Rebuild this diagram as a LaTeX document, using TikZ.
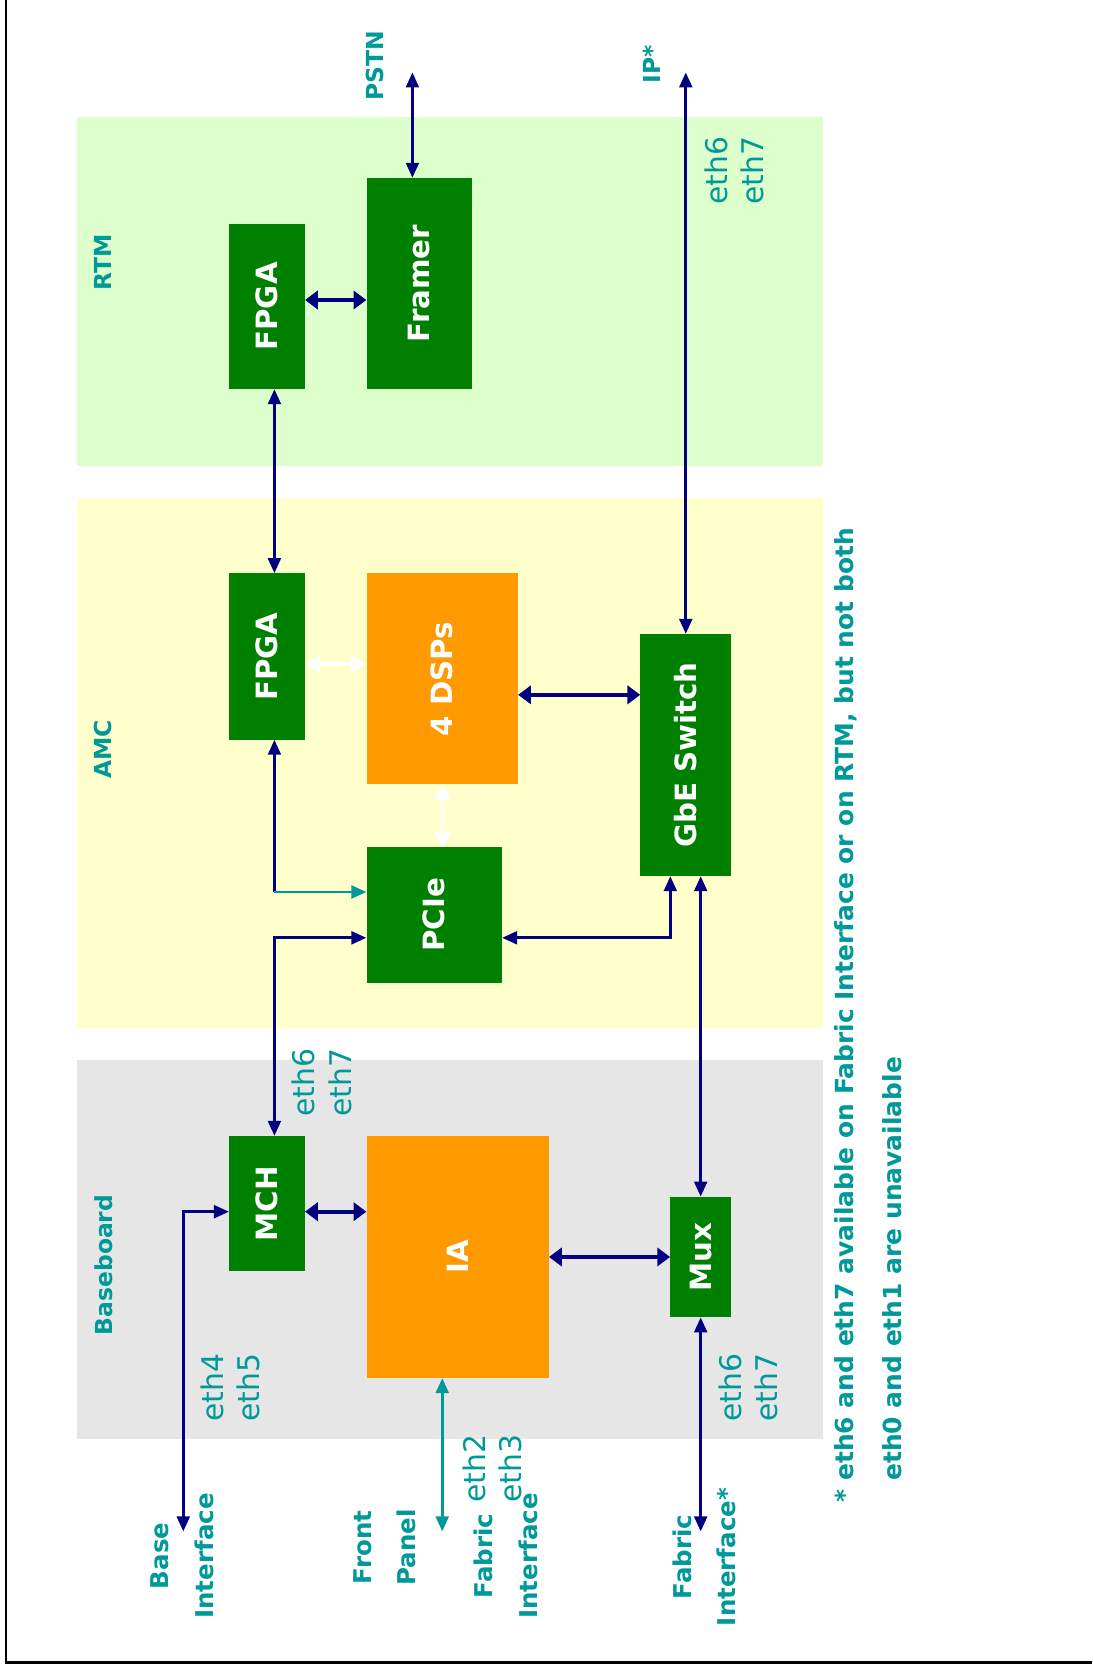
\documentclass[tikz,border=0pt]{standalone}
\usepackage{fontspec}
\setmainfont{DejaVu Sans}
\usetikzlibrary{arrows.meta,positioning,calc}

\definecolor{dgreen}{RGB}{0,128,0}
\definecolor{dorange}{RGB}{255,153,0}
\definecolor{tealT}{RGB}{0,153,153}
\definecolor{navyA}{RGB}{0,0,128}
\definecolor{rtmbg}{RGB}{221,255,204}
\definecolor{amcbg}{RGB}{255,255,204}
\definecolor{basebg}{RGB}{230,230,230}

\begin{document}
\begin{tikzpicture}
  [x=1pt,y=1pt,
   blkN/.style={inner sep=0pt, text=white, font=\fontsize{27.5}{30}\selectfont\bfseries},
   grnN/.style={blkN,fill=dgreen},
   orgN/.style={blkN,fill=dorange},
   areaL/.style={text=tealT, font=\fontsize{22}{26}\selectfont\bfseries, rotate=90, inner sep=0pt},
   ioL/.style={text=tealT, font=\fontsize{23}{42}\selectfont\bfseries, rotate=90, align=center, inner sep=0pt},
   ethL/.style={text=tealT, font=\fontsize{28}{34}\selectfont, rotate=90, align=left, inner sep=0pt},
   link/.style={draw=navyA, line width=2.5pt, >={Triangle[length=14pt,width=12pt]}},
   fatlink/.style={draw=navyA, line width=4pt, >={Triangle[length=12pt,width=17pt]}},
   tlink/.style={draw=tealT, line width=2.5pt, >={Triangle[length=14pt,width=12pt]}},
   wlink/.style={draw=white, line width=3pt, >={Triangle[length=14pt,width=15pt]}},
  ]

 \useasboundingbox (0,0) rectangle (1025,-1568);
 \draw[line width=2pt] (5.6,0) -- (5.6,-1560) -- (1025,-1560);

 % the three boards
 \fill[rtmbg] (72,-110) rectangle (772,-437);
 \fill[amcbg] (72,-467) rectangle (772,-965);
 \fill[basebg] (72,-995) rectangle (772,-1350);
 \node[areaL] (rtmL) at (97,-246) {RTM};
 \node[areaL] (amcL) at (97,-703) {AMC};
 \node[areaL] (baseL) at (97,-1187) {Baseboard};

 % blocks
 \node[grnN, minimum width=71, minimum height=155] (rtmFpga) at (250.5,-287.5) {\rotatebox{90}{FPGA}};
 \node[grnN, minimum width=99, minimum height=198] (framer) at (393.5,-266) {\rotatebox{90}{Framer}};
 \node[grnN, minimum width=71, minimum height=156] (amcFpga) at (250.5,-616) {\rotatebox{90}{FPGA}};
 \node[orgN, minimum width=142, minimum height=198] (dsps) at (415,-637) {\rotatebox{90}{4 DSPs}};
 \node[grnN, minimum width=127, minimum height=127] (pcie) at (407.5,-858.5) {\rotatebox{90}{PCIe}};
 \node[grnN, minimum width=85, minimum height=227] (gbe) at (643.5,-708.5) {\rotatebox{90}{GbE Switch}};
 \node[grnN, minimum width=71, minimum height=127] (mch) at (250.5,-1129.5) {\rotatebox{90}{MCH}};
 \node[orgN, minimum width=171, minimum height=227] (ia) at (429.5,-1179.5) {\rotatebox{90}{IA}};
 \node[grnN, minimum width=57, minimum height=113] (mux) at (657.5,-1179.5) {\rotatebox{90}{Mux}};

 % outside world
 \node[areaL] (pstn) at (352,-62) {PSTN};
 \node[areaL] (ip) at (612,-60) {IP*};
 \coordinate (pstnEnd) at (387,-68);
 \coordinate (ipEnd) at (643.5,-68);
 \coordinate (baseEnd) at (172,-1437);
 \coordinate (frontEnd) at (415,-1437);
 \coordinate (fabEnd) at (657.5,-1437);
 \node[ioL] (baseIf) at (171,-1460) {Base\\Interface};
 \node[ioL] (frontP) at (361,-1452) {Front\\Panel};
 \node[ioL] (fabIf) at (475,-1460) {Fabric\\Interface};
 \node[ioL] (fabIfB) at (661,-1461) {Fabric\\Interface*};

 \node[ethL] (ethA) at (689,-160) {eth6\\eth7};
 \node[ethL] (ethB) at (302,-1016) {eth6\\eth7};
 \node[ethL] (ethC) at (216,-1302) {eth4\\eth5};
 \node[ethL] (ethD) at (462,-1378) {eth2\\eth3};
 \node[ethL] (ethE) at (702,-1302) {eth6\\eth7};

 \node[text=tealT, font=\fontsize{23.4}{45}\selectfont\bfseries, rotate=90, align=left,
       inner sep=0pt, anchor=north west] (note) at (783,-1410)
   {* eth6 and eth7 available on Fabric Interface or on RTM, but not both\\\phantom{* }eth0 and eth1 are unavailable};

 % connections
 \draw[link,<->] (pstnEnd) -- (framer.north -| pstnEnd);
 \draw[link,<->] (ipEnd) -- (gbe.north);
 \draw[fatlink,<->] ([yshift=6]rtmFpga.east) -- ([yshift=6]rtmFpga.east -| framer.west);
 \draw[link,<->] ([xshift=7]rtmFpga.south) -- ([xshift=7]amcFpga.north);
 \draw[wlink,<->] ([yshift=-7]amcFpga.east) -- ([yshift=-7]amcFpga.east -| dsps.west);
 \draw[wlink,<->] (dsps.south) -- (dsps.south |- pcie.north);
 \draw[fatlink,<->] ([yshift=-15]dsps.east) -- ([yshift=-15]dsps.east -| gbe.west);
 \coordinate (fpBend) at ([xshift=7]amcFpga.south |- 0,-837);
 \draw[link,<-] ([xshift=7]amcFpga.south) -- (fpBend);
 \draw[tlink,->] (fpBend) -- (fpBend -| pcie.west);
 \draw[link,<->] ([xshift=7]mch.north) |- ([yshift=-21.5]pcie.west);
 \draw[link,<->] ([yshift=-21.5]pcie.east) -| ([xshift=-14.5]gbe.south);
 \draw[link,<->] (gbe.south -| mux.north) -- (mux.north);
 \draw[fatlink,<->] ([yshift=-7.5]mch.east) -- ([yshift=-7.5]mch.east -| ia.west);
 \draw[link,<->] (baseEnd) |- ([yshift=-7.5]mch.west);
 \draw[tlink,<->] (ia.south -| frontEnd) -- (frontEnd);
 \draw[fatlink,<->] (ia.east) -- (mux.west);
 \draw[link,<->] (mux.south) -- (fabEnd);
\end{tikzpicture}
\end{document}
